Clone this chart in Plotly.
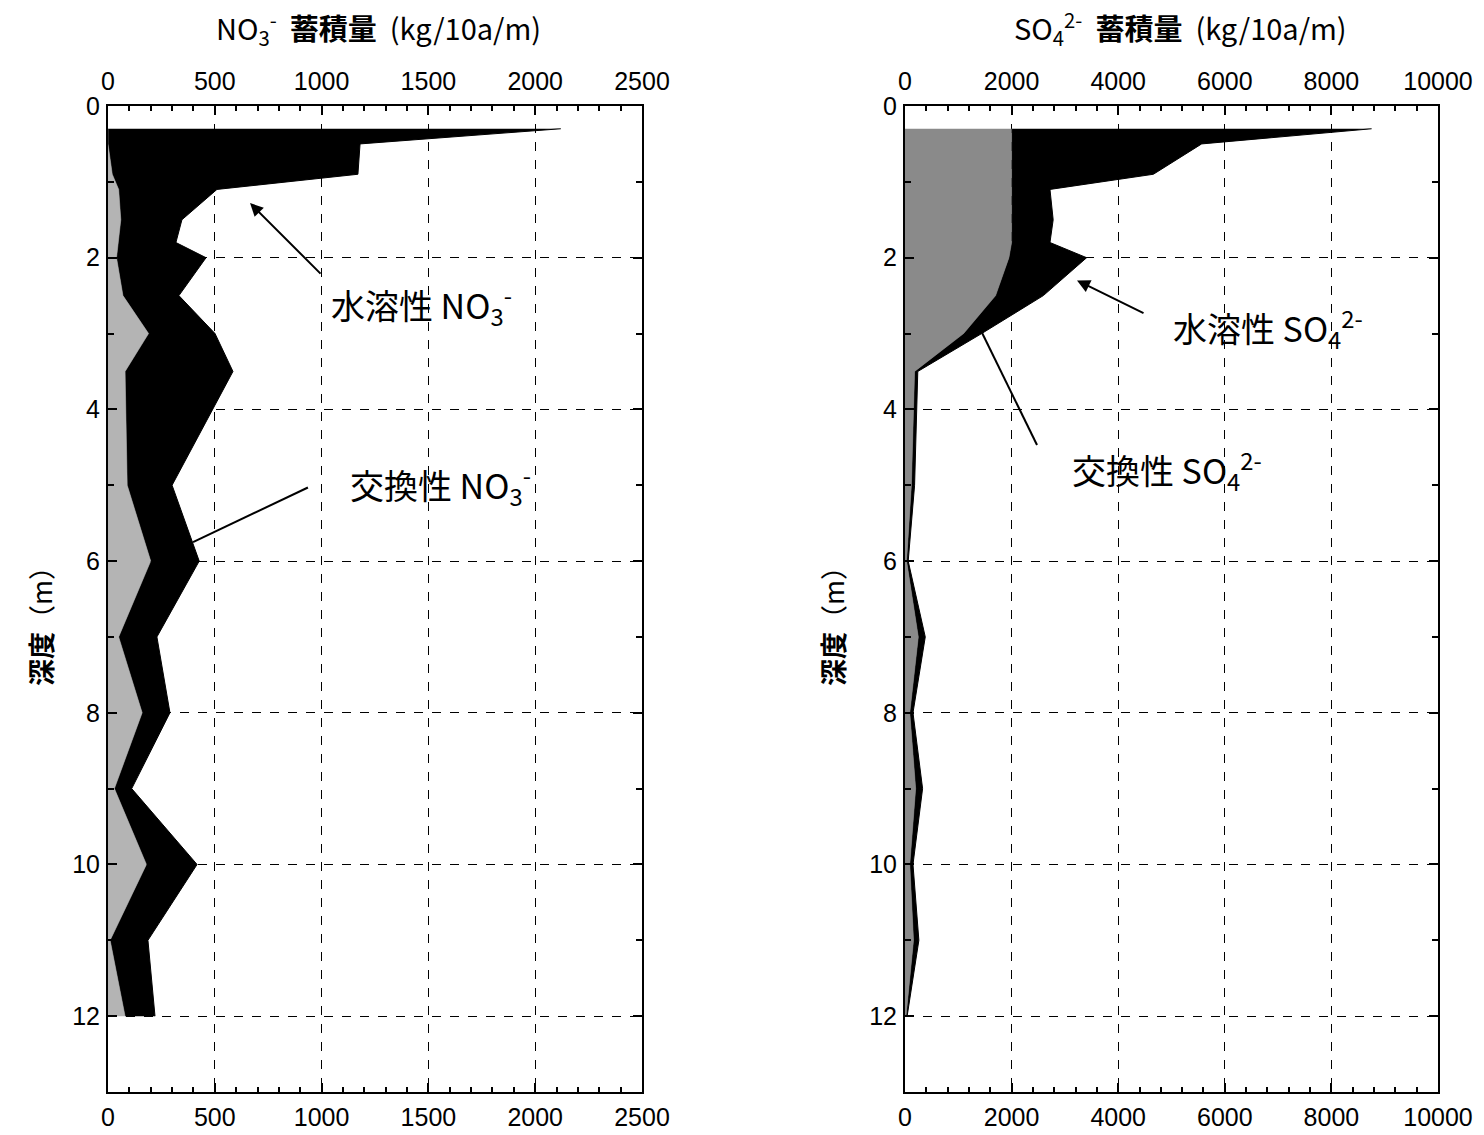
import plotly.graph_objects as go

# ---- data ----
depth = [0.3, 0.5, 0.9, 1.1, 1.5, 1.8, 2.0, 2.5, 3.0, 3.5, 5.0, 6.0, 7.0, 8.0, 9.0, 10.0, 11.0, 12.0]

# NO3- (kg/10a/m)
no3_exchange = [0, 0, 20, 50, 60, 50, 40, 70, 190, 80, 90, 200, 50, 160, 30, 180, 10, 80]
no3_water = [2120, 1180, 1150, 460, 286, 268, 419, 262, 311, 505, 210, 227, 179, 130, 81, 237, 177, 140]

# SO4 2- (kg/10a/m)
so4_exchange = [2000, 2000, 2000, 2000, 2000, 2000, 1950, 1700, 1100, 180, 120, 30, 250, 90, 200, 90, 160, 20]
so4_water = [6755, 3566, 2660, 720, 780, 720, 1458, 895, 339, 60, 60, 30, 130, 60, 130, 60, 100, 20]

no3_ticks = [0, 500, 1000, 1500, 2000, 2500]
so4_ticks = [0, 2000, 4000, 6000, 8000, 10000]
depth_ticks = [0, 2, 4, 6, 8, 10, 12]

no3_total = [a + b for a, b in zip(no3_exchange, no3_water)]
so4_total = [a + b for a, b in zip(so4_exchange, so4_water)]

GREY_L = "#b4b4b4"
GREY_R = "#8a8a8a"
TICKFONT = dict(family="Liberation Sans, Arial, sans-serif", size=25, color="black")
CJK = "Noto Sans CJK JP"

# body margin is removed by a post script, so figure pixels == page pixels
W, H = 1484, 1135


def px(x):
    return x / W


def py(y):
    return 1 - y / H


xdomL = [px(108), px(642)]
xdomR = [px(905), px(1438)]
ydom = [py(1092), py(106)]

fig = go.Figure()

# left panel
fig.add_trace(go.Scatter(x=no3_exchange, y=depth, mode="lines", fill="tozerox",
                         fillcolor=GREY_L, line=dict(color=GREY_L, width=0.5),
                         xaxis="x", yaxis="y", hoverinfo="skip", showlegend=False))
fig.add_trace(go.Scatter(x=no3_total, y=depth, mode="lines", fill="tonextx",
                         fillcolor="black", line=dict(color="black", width=1),
                         xaxis="x", yaxis="y", hoverinfo="skip", showlegend=False))
# right panel
fig.add_trace(go.Scatter(x=so4_exchange, y=depth, mode="lines", fill="tozerox",
                         fillcolor=GREY_R, line=dict(color=GREY_R, width=0.5),
                         xaxis="x2", yaxis="y2", hoverinfo="skip", showlegend=False))
fig.add_trace(go.Scatter(x=so4_total, y=depth, mode="lines", fill="tonextx",
                         fillcolor="black", line=dict(color="black", width=1),
                         xaxis="x2", yaxis="y2", hoverinfo="skip", showlegend=False))
# invisible traces to carry top-label axes
fig.add_trace(go.Scatter(x=[0], y=[0], mode="markers", marker=dict(opacity=0),
                         xaxis="x3", yaxis="y", hoverinfo="skip", showlegend=False))
fig.add_trace(go.Scatter(x=[0], y=[0], mode="markers", marker=dict(opacity=0),
                         xaxis="x4", yaxis="y2", hoverinfo="skip", showlegend=False))


def xaxis(domain, ticks, anchor, minor):
    return dict(domain=domain, range=[ticks[0], ticks[-1]], tickvals=ticks,
                ticktext=[str(t) for t in ticks], ticklabelstandoff=2,
                ticks="inside", ticklen=9, tickwidth=1.5, tickcolor="black",
                showline=True, linecolor="black", linewidth=2, mirror="ticks",
                showgrid=True, gridcolor="black", griddash="dash", gridwidth=1,
                zeroline=False, tickfont=TICKFONT, anchor=anchor, automargin=False,
                minor=dict(dtick=minor, ticks="inside", ticklen=5, tickcolor="black",
                           showgrid=False))


def topaxis(over, ticks, anchor):
    return dict(overlaying=over, side="top", anchor=anchor,
                range=[ticks[0], ticks[-1]], tickvals=ticks, ticklabelstandoff=10,
                ticktext=[str(t) for t in ticks], ticks="", automargin=False,
                showline=False, showgrid=False, zeroline=False, tickfont=TICKFONT)


def yaxis(anchor):
    return dict(domain=ydom, range=[13, 0], tickvals=depth_ticks, ticklabelstandoff=1,
                ticks="inside", ticklen=9, tickwidth=1.5, tickcolor="black",
                showline=True, linecolor="black", linewidth=2, mirror="ticks",
                showgrid=True, gridcolor="black", griddash="dash", gridwidth=1,
                zeroline=False, tickfont=TICKFONT, anchor=anchor, automargin=False,
                minor=dict(dtick=1, ticks="inside", ticklen=6, tickcolor="black",
                           showgrid=False))


fig.update_layout(
    width=W, height=H,
    margin=dict(l=0, r=0, t=0, b=0, autoexpand=False),
    paper_bgcolor="white", plot_bgcolor="white",
    xaxis=xaxis(xdomL, no3_ticks, "y", 100),
    xaxis2=xaxis(xdomR, so4_ticks, "y2", 400),
    xaxis3=topaxis("x", no3_ticks, "y"),
    xaxis4=topaxis("x2", so4_ticks, "y2"),
    yaxis=yaxis("x"),
    yaxis2=yaxis("x2"),
)

LABFONT = dict(family=CJK, size=34, color="black")
TITLEFONT = dict(family=CJK, size=29, color="black")
C = dict(xanchor="center", yanchor="middle", showarrow=False)
annotations = [
    # titles
    dict(text="NO<sub>3</sub><sup>-</sup>  <b>蓄積量</b>  (kg/10a/m)", xref="paper", yref="paper",
         x=px(378), y=py(28), font=TITLEFONT, **C),
    dict(text="SO<sub>4</sub><sup>2-</sup>  <b>蓄積量</b>  (kg/10a/m)", xref="paper", yref="paper",
         x=px(1180), y=py(28), font=TITLEFONT, **C),
    # y titles
    dict(text="<b>深度</b>（m）", xref="paper", yref="paper", x=px(40), y=py(620),
         textangle=-90, font=dict(family=CJK, size=27, color="black"), **C),
    dict(text="<b>深度</b>（m）", xref="paper", yref="paper", x=px(832), y=py(620),
         textangle=-90, font=dict(family=CJK, size=27, color="black"), **C),
    # labels
    dict(text="水溶性 NO<sub>3</sub><sup>-</sup>", xref="x", yref="y", x=1470, y=2.63,
         font=LABFONT, **C),
    dict(text="交換性 NO<sub>3</sub><sup>-</sup>", xref="x", yref="y", x=1555, y=5.0,
         font=LABFONT, **C),
    dict(text="水溶性 SO<sub>4</sub><sup>2-</sup>", xref="x2", yref="y2", x=6810, y=2.93,
         font=LABFONT, **C),
    dict(text="交換性 SO<sub>4</sub><sup>2-</sup>", xref="x2", yref="y2", x=4915, y=4.8,
         font=LABFONT, **C),
    # arrows
    dict(text="", xref="x", yref="y", axref="x", ayref="y", x=665, y=1.28, ax=1002, ay=2.23,
         showarrow=True, arrowhead=2, arrowsize=1.3, arrowwidth=2, arrowcolor="black"),
    dict(text="", xref="x2", yref="y2", axref="x2", ayref="y2", x=3227, y=2.30, ax=4503, ay=2.74,
         showarrow=True, arrowhead=2, arrowsize=1.3, arrowwidth=2, arrowcolor="black"),
]
fig.update_layout(annotations=annotations)

fig.add_shape(type="line", xref="x", yref="y", x0=936, y0=5.03, x1=398, y1=5.75,
              line=dict(color="black", width=2))
fig.add_shape(type="line", xref="x2", yref="y2", x0=2477, y0=4.47, x1=1445, y1=2.99,
              line=dict(color="black", width=2))

fig.write_html("out.html", config={"displayModeBar": False},
               post_script="document.body.style.margin='0';document.body.style.overflow='hidden';")
